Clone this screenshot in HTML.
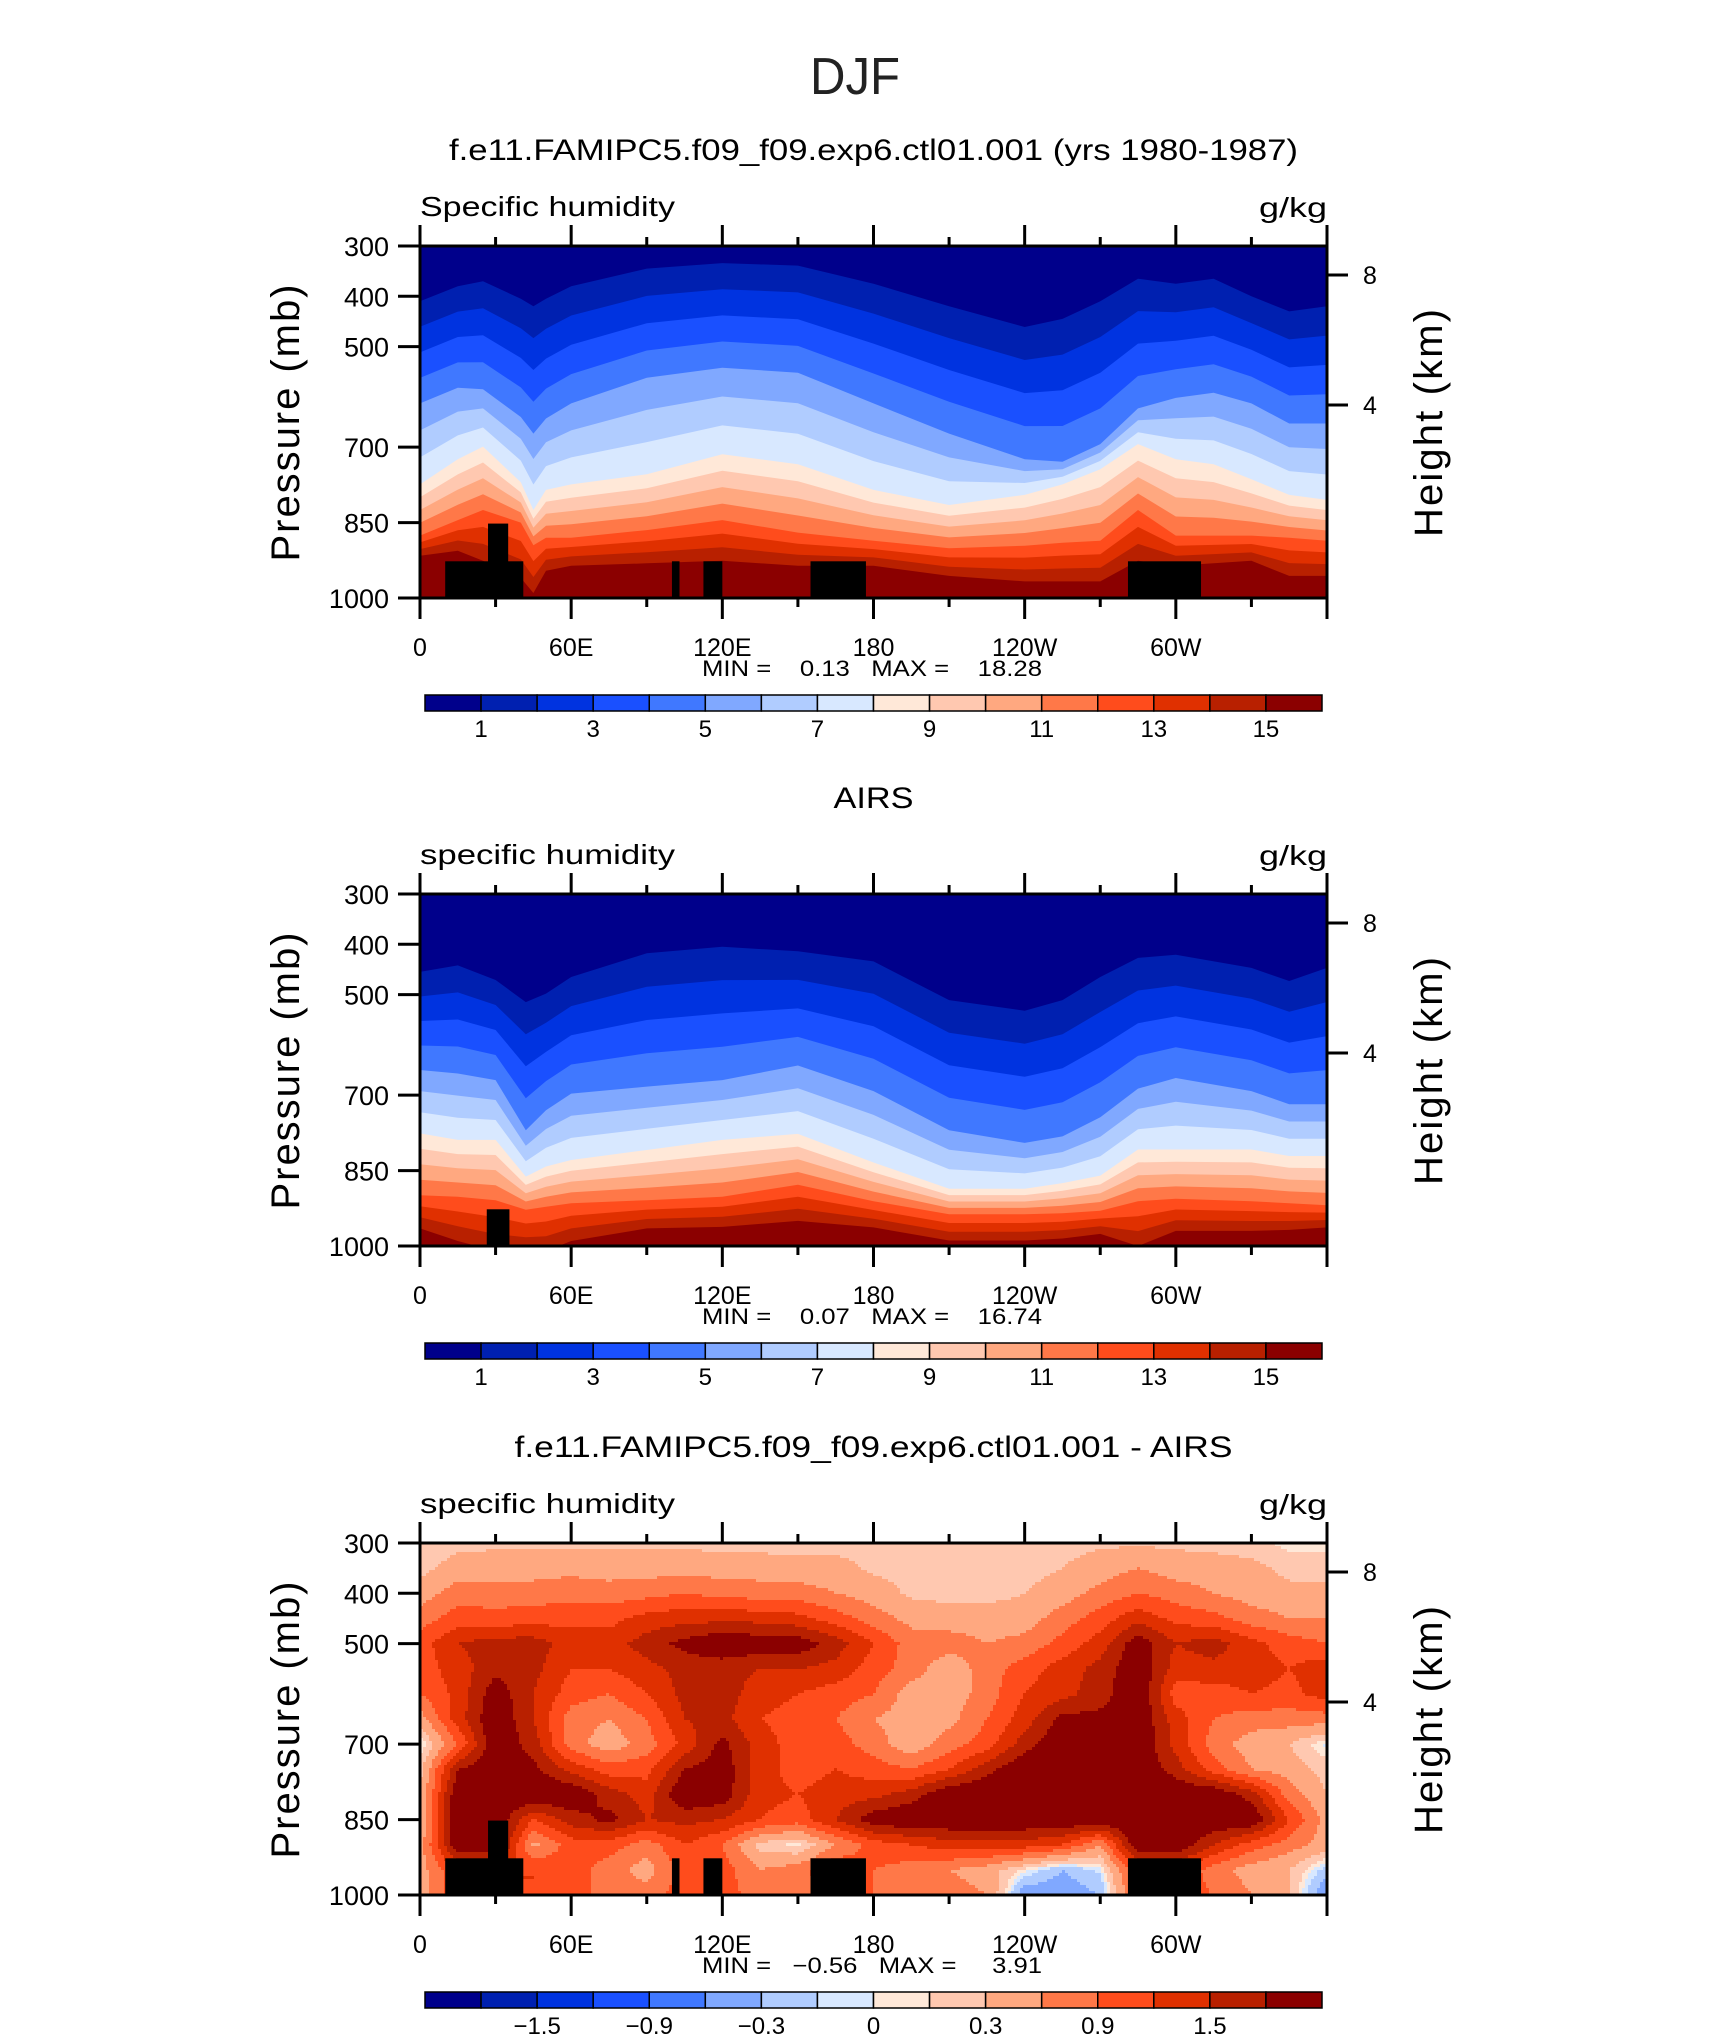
<!DOCTYPE html>
<html><head><meta charset="utf-8"><title>DJF specific humidity</title>
<style>
html,body{margin:0;padding:0;background:#fff;}
svg{display:block;font-family:"Liberation Sans",sans-serif;}
.pre{white-space:pre;}
</style></head>
<body>
<svg id="fig" xmlns="http://www.w3.org/2000/svg" width="1710" height="2038" viewBox="0 0 1710 2038">
<rect x="0" y="0" width="1710" height="2038" fill="#fff"/>
<text x="855" y="94" font-size="52" text-anchor="middle" fill="#222" textLength="90" lengthAdjust="spacingAndGlyphs">DJF</text>
</svg>
<script>
// ---- data ----
const LEVELS_Q = [1,2,3,4,5,6,7,8,9,10,11,12,13,14,15];
const LEVELS_D = [-1.8,-1.5,-1.2,-0.9,-0.6,-0.3,-0.1,0,0.1,0.3,0.6,0.9,1.2,1.5,1.8];
const COLORS = ["#00008b","#0020b0","#0033e0","#1a50ff","#4078ff","#80a8ff","#b0ccff","#d8e8ff","#ffe8d8","#ffc8b0","#ffa880","#ff7848","#ff4c1c","#e03000","#b82000","#8b0000"];
const ANCHOR_Q = [1,5,8,12,15];
const P1_LON = [0,15,25,40,45,50,60,90,120,150,180,210,240,255,270,285,300,315,330,345,360];
const P1_Q1  = [410,380,370,405,420,405,380,345,334,339,375,420,461,445,410,365,375,365,400,430,420];
const P1_Q5  = [613,582,585,640,673,643,613,562,542,552,613,673,724,729,694,623,602,592,613,653,653];
const P1_Q8  = [774,724,699,770,825,785,774,754,714,734,785,815,795,774,744,694,724,734,764,795,805];
const P1_Q12 = [876,845,825,850,895,880,880,865,845,870,886,901,896,890,886,825,876,876,876,880,886];
const P1_Q15 = [916,906,926,960,990,946,936,931,926,936,936,956,967,967,967,926,936,931,926,956,956];
const P2_LON = [0,15,30,42,50,60,90,120,150,180,210,240,255,270,285,300,330,345,360];
const P2_Q1  = [455,442,471,515,498,465,418,405,414,434,511,532,511,465,427,421,447,473,447];
const P2_Q5  = [650,657,670,770,730,697,683,670,641,692,770,795,782,744,687,666,692,718,718];
const P2_Q8  = [776,789,789,862,842,829,809,789,777,834,886,886,875,860,808,808,808,821,821];
const P2_Q12 = [899,902,909,928,922,915,909,902,878,911,937,937,935,930,911,906,911,915,919];
const P2_Q15 = [965,990,1010,1010,1010,990,965,962,950,963,989,989,985,976,1000,970,970,968,963];
const D_LON = [0,15,30,45,60,75,90,105,120,135,150,165,180,195,210,225,240,255,270,285,300,315,330,345,360];
const D_P = [300,350,400,450,500,550,600,650,700,750,800,850,900,950,1000];
const D_ROWS = [
[0.1,0.2,0.25,0.25,0.25,0.25,0.25,0.25,0.2,0.2,0.2,0.2,0.2,0.2,0.2,0.2,0.2,0.2,0.25,0.25,0.25,0.2,0.15,0.05,0.05],
[0.2,0.45,0.45,0.45,0.5,0.45,0.45,0.5,0.45,0.45,0.4,0.4,0.25,0.2,0.2,0.2,0.2,0.3,0.45,0.6,0.45,0.45,0.4,0.2,0.2],
[0.45,0.75,0.75,0.75,0.8,0.75,0.8,0.9,0.8,0.75,0.75,0.6,0.45,0.25,0.2,0.2,0.3,0.45,0.7,0.9,0.75,0.6,0.45,0.4,0.4],
[0.75,1.05,1.0,1.05,1.1,1.1,1.3,1.4,1.4,1.4,1.3,1.05,0.75,0.5,0.45,0.45,0.45,0.75,1.05,1.4,1.1,1.0,0.75,0.6,0.6],
[1.05,1.5,1.65,1.65,1.35,1.35,1.65,1.9,2.1,2.0,2.0,1.65,1.2,0.75,0.75,0.6,0.7,1.0,1.35,2.0,1.5,1.65,1.3,1.05,0.9],
[1.05,1.35,1.7,1.6,1.2,1.2,1.4,1.6,1.6,1.5,1.5,1.4,1.05,0.75,0.4,0.75,1.05,1.35,1.6,2.1,1.35,1.4,1.35,1.2,1.4],
[0.9,1.3,2.0,1.5,1.05,0.9,1.2,1.6,1.65,1.35,1.2,1.05,0.9,0.45,0.4,0.75,1.2,1.4,1.65,2.1,1.05,1.05,1.2,1.1,1.35],
[0.45,1.35,2.1,1.5,0.75,0.6,0.9,1.5,1.6,1.2,1.05,0.9,0.6,0.45,0.5,0.9,1.35,1.9,1.9,2.1,1.35,0.9,0.75,0.75,0.75],
[-0.05,0.9,2.1,1.65,0.75,0.4,0.75,1.3,1.9,1.35,1.05,1.05,0.75,0.4,0.75,1.05,1.65,2.1,2.1,2.1,1.4,0.75,0.45,0.3,-0.05],
[0.2,1.8,2.1,1.9,1.4,1.05,1.1,1.8,2.0,1.35,1.05,1.2,1.05,0.9,1.2,1.7,2.1,2.1,2.1,2.1,1.65,1.05,0.6,0.45,0.2],
[0.3,2.1,2.1,2.1,2.1,1.65,1.35,2.1,2.0,1.3,1.2,1.35,1.4,1.65,2.1,2.1,2.1,2.1,2.1,2.1,2.1,2.1,1.65,0.75,0.3],
[0.3,2.1,2.1,1.2,1.65,1.9,1.5,1.6,1.5,1.2,1.05,1.5,2.0,2.1,2.1,2.1,2.1,2.1,2.1,2.1,2.1,2.1,2.1,1.2,0.45],
[0.45,2.1,2.1,0.5,1.05,1.05,0.75,1.2,0.9,0.2,0.05,0.6,1.05,1.2,1.35,1.35,1.35,1.2,0.6,2.1,2.1,1.5,1.05,0.75,0.45],
[0.45,1.2,1.2,1.2,1.05,0.75,0.45,1.05,1.05,0.6,0.75,1.2,0.9,0.75,0.6,0.45,0.05,-0.3,-0.05,1.2,1.2,0.75,0.45,0.3,-0.2],
[0.45,1.2,1.2,1.2,1.05,0.75,0.75,1.05,1.05,0.75,0.75,1.05,0.9,0.75,0.75,0.6,-0.5,-0.5,-0.3,1.05,1.05,0.9,0.6,0.3,-0.6]
];
const MASK_MODEL = [[10,41,927],[27,35,852],[100,103,927],[112.5,120,927],[155,177,927],[281,310,927]];
const MASK_OBS = [[26.5,35.5,927]];
const P_TICKS = [300,400,500,700,850,1000];
const LON_LABELS = ["0","60E","120E","180","120W","60W"];
const LON_LABEL_POS = [0,60,120,180,240,300];
const H_TICKS = [8,4];
const CB_LABELS_Q = ["1","3","5","7","9","11","13","15"];
const CB_LABELS_D = ["\u22121.5","\u22120.9","\u22120.3","0","0.3","0.9","1.5"];

// ---- layout ----
const NS = "http://www.w3.org/2000/svg";
const svg = document.getElementById("fig");
const PL = 420, PR = 1327, PH = 352;
const PANEL_TOPS = [246, 894, 1543];
const xOf = lon => PL + lon * (PR - PL) / 360;
function yOf(top, p){ return top + (p - 300) * PH / 700; }
function mk(tag, attrs, parent){ const e = document.createElementNS(NS, tag); for (const k in attrs) e.setAttribute(k, attrs[k]); (parent||svg).appendChild(e); return e; }

function isolineP(anchors, i, q){
  const vals = anchors.map(a => a[i]);
  if (q <= ANCHOR_Q[0]) return vals[0];
  for (let j=1;j<ANCHOR_Q.length;j++){ if (q<=ANCHOR_Q[j]){ const t=(q-ANCHOR_Q[j-1])/(ANCHOR_Q[j]-ANCHOR_Q[j-1]); return vals[j-1]+t*(vals[j]-vals[j-1]); } }
  return vals[vals.length-1];
}

function drawBandField(idx, lons, anchors, g){
  const top = PANEL_TOPS[idx];
  const bg = mk("rect", {x:PL, y:top, width:PR-PL, height:PH, fill:COLORS[0]}, g);
  
  
  LEVELS_Q.forEach((q, k) => {
    let d = "";
    lons.forEach((lon, i) => {
      const p = Math.min(1010, Math.max(290, isolineP(anchors, i, q)));
      d += (i===0?"M":"L") + xOf(lon).toFixed(1) + "," + yOf(top,p).toFixed(1);
    });
    d += "L" + xOf(360) + "," + (top+PH+5) + "L" + xOf(0) + "," + (top+PH+5) + "Z";
    const path = mk("path", {d:d, fill:COLORS[k+1]}, g);
    
    
  });
}

function diffValue(lon, p){
  let r = 0; while (r < D_P.length-2 && p > D_P[r+1]) r++;
  let c = 0; while (c < D_LON.length-2 && lon > D_LON[c+1]) c++;
  const tr = (p - D_P[r])/(D_P[r+1]-D_P[r]), tc = (lon - D_LON[c])/(D_LON[c+1]-D_LON[c]);
  const a = D_ROWS[r][c], b = D_ROWS[r][c+1], cc = D_ROWS[r+1][c], dd = D_ROWS[r+1][c+1];
  return (a*(1-tc)+b*tc)*(1-tr) + (cc*(1-tc)+dd*tc)*tr;
}
function bandIndex(v){ let k=0; while (k<LEVELS_D.length && v>LEVELS_D[k]) k++; return k; }

function drawDiffField(idx, g){
  const top = PANEL_TOPS[idx];
  const cw = 3, ch = 3;
  const W = PR-PL;
  for (let y=0; y<PH; y+=ch){
    const p = 300 + (y+ch/2)*700/PH;
    let runStart = 0, runK = -1;
    const flush = (end) => {
      if (runK < 0) return;
      const r = mk("rect", {x:PL+runStart, y:top+y, width:end-runStart, height:ch+0.5, fill:COLORS[runK]}, g);
      
      
    };
    for (let x=0; x<W; x+=cw){
      const lon = Math.min(360, (x+cw/2)*360/W);
      const k = bandIndex(diffValue(lon, p));
      if (k !== runK){ flush(x); runStart = x; runK = k; }
    }
    flush(W);
  }
}

function drawMasks(idx, masks, g){
  const top = PANEL_TOPS[idx];
  masks.forEach(m => {
    const r = mk("rect", {x:xOf(m[0]), y:yOf(top,m[2]), width:xOf(m[1])-xOf(m[0]), height:yOf(top,1000)-yOf(top,m[2]), fill:"#000"}, g);
    
    
  });
}

function txt(s, attrs, name){
  const t = mk("text", attrs);
  t.textContent = s;
  
  
  return t;
}

function drawAxes(idx, title, titleW, varName, varW, minmax){
  const top = PANEL_TOPS[idx], bot = top + PH;
  txt(title, {x:873.5, y:top-86, "font-size":30, "text-anchor":"middle", textLength:titleW, lengthAdjust:"spacingAndGlyphs"}, 'panel-title');
  txt(varName, {x:420, y:top-30, "font-size":28, textLength:varW, lengthAdjust:"spacingAndGlyphs"}, 'variable-name');
  txt("g/kg", {x:1327, y:top-29, "font-size":28, "text-anchor":"end", textLength:68, lengthAdjust:"spacingAndGlyphs"}, 'units-label');
  const frame = mk("rect", {x:PL, y:top, width:PR-PL, height:PH, fill:"none", stroke:"#000", "stroke-width":3});
  
  
  for (let lon=0; lon<=360; lon+=30){
    const major = lon % 60 === 0;
    const L = major ? 21 : 9;
    const t1 = mk("line", {x1:xOf(lon), x2:xOf(lon), y1:top, y2:top-L, stroke:"#000", "stroke-width":3});
    
    
    const t2 = mk("line", {x1:xOf(lon), x2:xOf(lon), y1:bot, y2:bot+L, stroke:"#000", "stroke-width":3});
    
    
  }
  LON_LABELS.forEach((s,i) => {
    txt(s, {x:xOf(LON_LABEL_POS[i]), y:bot+58, "font-size":25, "text-anchor":"middle"}, 'x-tick-label');
  });
  P_TICKS.forEach(p => {
    const y = yOf(top,p);
    const t = mk("line", {x1:PL, x2:PL-22, y1:y, y2:y, stroke:"#000", "stroke-width":3});
    
    
    txt(String(p), {x:389, y:y+10, "font-size":27, "text-anchor":"end"}, 'y-tick-label');
  });
  H_TICKS.forEach(h => {
    const y = top + (h === 8 ? 29 : 159);
    const t = mk("line", {x1:PR, x2:PR+21, y1:y, y2:y, stroke:"#000", "stroke-width":3});
    
    
    txt(String(h), {x:1370, y:y+9, "font-size":25, "text-anchor":"middle"}, 'height-tick-label');
  });
  txt("Pressure (mb)", {x:0, y:0, "font-size":40, "text-anchor":"middle", textLength:277, lengthAdjust:"spacing", transform:"translate(299," + (top+177) + ") rotate(-90)"}, 'y-axis-title');
  txt("Height (km)", {x:0, y:0, "font-size":40, "text-anchor":"middle", textLength:228, lengthAdjust:"spacing", transform:"translate(1442," + (top+177) + ") rotate(-90)"}, 'right-axis-title');
  txt(minmax, {x:872, y:bot+78, "font-size":22, "text-anchor":"middle", "class":"pre", textLength:340, lengthAdjust:"spacingAndGlyphs"}, 'min-max-label');
}

function drawColorbar(idx, labels, step){
  const y = 695 + (PANEL_TOPS[idx]-246);
  const x0 = 425, x1 = 1322, w = (x1-x0)/16;
  COLORS.forEach((c,i) => {
    const r = mk("rect", {x:x0+i*w, y:y, width:w, height:16, fill:c, stroke:"#000", "stroke-width":1.5});
    
    
  });
  labels.forEach((s,i) => {
    const b = step === 2 ? (1 + 2*i) : (2 + 2*i);
    txt(s, {x:x0 + b*w, y:y+42, "font-size":24, "text-anchor":"middle"}, 'colorbar-label');
  });
}

function panelGroup(idx){
  const top = PANEL_TOPS[idx];
  const cp = mk("clipPath", {id:"clip"+idx});
  mk("rect", {x:PL, y:top, width:PR-PL, height:PH}, cp);
  const g = mk("g", {"clip-path":"url(#clip"+idx+")"});
  
  
  return g;
}

const g0 = panelGroup(0);
drawBandField(0, P1_LON, [P1_Q1,P1_Q5,P1_Q8,P1_Q12,P1_Q15], g0);
drawMasks(0, MASK_MODEL, g0);
drawAxes(0, "f.e11.FAMIPC5.f09_f09.exp6.ctl01.001 (yrs 1980-1987)", 849, "Specific humidity", 255, "MIN =    0.13   MAX =    18.28");
drawColorbar(0, CB_LABELS_Q, 2);

const g1 = panelGroup(1);
drawBandField(1, P2_LON, [P2_Q1,P2_Q5,P2_Q8,P2_Q12,P2_Q15], g1);
drawMasks(1, MASK_OBS, g1);
drawAxes(1, "AIRS", 80, "specific humidity", 255, "MIN =    0.07   MAX =    16.74");
drawColorbar(1, CB_LABELS_Q, 2);

const g2 = panelGroup(2);
drawDiffField(2, g2);
drawMasks(2, MASK_MODEL, g2);
drawAxes(2, "f.e11.FAMIPC5.f09_f09.exp6.ctl01.001 - AIRS", 718, "specific humidity", 255, "MIN =   \u22120.56   MAX =     3.91");
drawColorbar(2, CB_LABELS_D, 1);
</script>
</body></html>
